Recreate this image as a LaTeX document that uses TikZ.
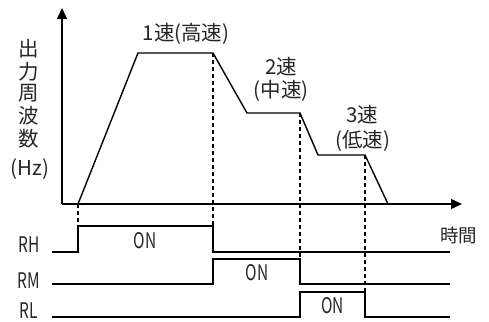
\documentclass[tikz,border=0pt]{standalone}
\usepackage{fontspec}
\usetikzlibrary{arrows.meta}
\newfontfamily\jpfont{Noto Sans CJK JP}
\newfontfamily\jpnarrow[FakeStretch=0.72]{Noto Sans CJK JP}
\begin{document}
\begin{tikzpicture}[x=1pt,y=-1pt,
  axisline/.style={line width=1.4pt,-{Triangle[length=11pt,width=10pt]}},
  curveline/.style={line width=1.4pt,line join=miter},
  sigline/.style={line width=1.4pt},
  guide/.style={line width=1.5pt,dash pattern=on 4pt off 3pt},
  lab/.style={font=\jpfont\fontsize{20.5}{20.5}\selectfont,inner sep=0pt,text=black!85},
  nlab/.style={font=\jpnarrow\fontsize{21.5}{21.5}\selectfont,inner sep=0pt,anchor=base,text=black!85}]
\useasboundingbox (0,0) rectangle (489,321);
% axes
\coordinate (O) at (62,204);
\coordinate (ytip) at (62,8);
\coordinate (xtip) at (462,204);
% frequency curve
\coordinate (c0) at (78,204);
\coordinate (c1) at (138,53);
\coordinate (c2) at (213,53);
\coordinate (c3) at (247,113);
\coordinate (c4) at (300,113);
\coordinate (c5) at (318,155);
\coordinate (c6) at (365,155);
\coordinate (c7) at (388,204);
% signal levels
\coordinate (rh0) at (52,252); \coordinate (rh1) at (78,252); \coordinate (rh2) at (78,226);
\coordinate (rh3) at (213,226); \coordinate (rh4) at (213,252); \coordinate (rh5) at (450,252);
\coordinate (rm0) at (52,284); \coordinate (rm1) at (213,284); \coordinate (rm2) at (213,259);
\coordinate (rm3) at (300,259); \coordinate (rm4) at (300,284); \coordinate (rm5) at (450,284);
\coordinate (rl0) at (52,317); \coordinate (rl1) at (300,317); \coordinate (rl2) at (300,292);
\coordinate (rl3) at (365,292); \coordinate (rl4) at (365,317); \coordinate (rl5) at (450,317);
% guides
\draw[guide] (c0) -- (rh2);
\draw[guide] (c2) -- (rh3);
\draw[guide] (c4) -- (rm3);
\draw[guide] (c6) -- (rl3);
% axes
\draw[axisline] (O) -- (ytip);
\draw[axisline] (O) -- (xtip);
\draw[curveline] (c0) -- (c1) -- (c2) -- (c3) -- (c4) -- (c5) -- (c6) -- (c7);
% signals
\draw[sigline] (rh0) -- (rh1) -- (rh2) -- (rh3) -- (rh4) -- (rh5);
\draw[sigline] (rm0) -- (rm1) -- (rm2) -- (rm3) -- (rm4) -- (rm5);
\draw[sigline] (rl0) -- (rl1) -- (rl2) -- (rl3) -- (rl4) -- (rl5);
% labels
\node[lab] (y1) at (29,49) {出};
\node[lab] (y2) at (29,71.5) {力};
\node[lab] (y3) at (29,93.5) {周};
\node[lab] (y4) at (29,115.5) {波};
\node[lab] (y5) at (29,139) {数};
\node[lab] (y6) at (30,169) {(Hz)};
\node[lab] (s1) at (186,33.5) {1速(高速)};
\node[lab] (s2a) at (281,66.5) {2速};
\node[lab] (s2b) at (281,91) {(中速)};
\node[lab] (s3a) at (362.5,115) {3速};
\node[lab] (s3b) at (362.5,141) {(低速)};
\node[lab,font=\jpfont\fontsize{18.5}{18.5}\selectfont] (t) at (458.5,235) {時間};
\node[nlab] (RH) at (29,252) {RH};
\node[nlab] (RM) at (29,288) {RM};
\node[nlab] (RL) at (29,318) {RL};
\node[nlab] (on1) at (145,248) {ON};
\node[nlab] (on2) at (257,280) {ON};
\node[nlab] (on3) at (332.5,313) {ON};
\end{tikzpicture}
\end{document}
